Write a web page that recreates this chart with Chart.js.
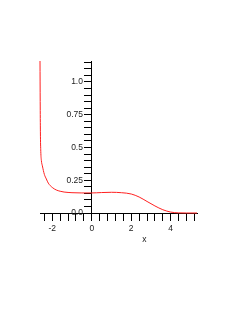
<!DOCTYPE html>
<html>
<head>
<meta charset="utf-8">
<script src="https://cdn.jsdelivr.net/npm/chart.js@4"></script>
<style>
  html, body { margin: 0; padding: 0; background: #fff; }
  #wrap { width: 245px; height: 317px; }
</style>
</head>
<body>
<div id="wrap"><canvas id="plot" width="245" height="317"></canvas></div>
<script>
// values
const xs = [-2.62, -2.61, -2.6, -2.58, -2.55, -2.5, -2.4, -2.3, -2.2, -2.0, -1.8, -1.6, -1.4, -1.0, -0.5, 0, 0.5, 1.0, 1.5, 2.0, 2.4, 2.8, 3.2, 3.6, 4.0, 4.4, 4.8, 5.33];
const ys = [1.16, 0.85, 0.62, 0.47, 0.40, 0.36, 0.295, 0.26, 0.228, 0.195, 0.176, 0.166, 0.16, 0.155, 0.153, 0.153, 0.156, 0.158, 0.155, 0.145, 0.122, 0.088, 0.054, 0.025, 0.007, 0.001, 0, 0];
const xRange = [-2.62, 5.33];
const yRange = [0, 1.16];
const xLabelEvery = 2;
const yLabelEvery = 0.25;
const axisTitle = 'x';

const isMultiple = (v, step) => Math.abs(v / step - Math.round(v / step)) < 1e-6;

const font = { family: 'Liberation Sans', size: 8.5 };

// draws the "x" caption under the horizontal axis
const captionPlugin = {
    id: 'caption',
    afterDraw(chart) {
        const ctx = chart.ctx;
        const px = chart.scales.x.getPixelForValue(2.66);
        const py = chart.scales.y.getPixelForValue(0) + 27;
        ctx.save();
        ctx.font = '8.5px "Liberation Sans"';
        ctx.fillStyle = '#222';
        ctx.textAlign = 'center';
        ctx.textBaseline = 'middle';
        ctx.fillText(axisTitle, px, py);
        ctx.restore();
    }
};

new Chart(document.getElementById('plot'), {
    type: 'line',
    data: {
        datasets: [{
            data: xs.map((x, i) => ({ x: x, y: ys[i] })),
            borderColor: '#ff2020',
            borderWidth: 1,
            pointRadius: 0,
            cubicInterpolationMode: 'monotone',
            clip: 3
        }]
    },
    options: {
        responsive: false,
        animation: false,
        events: [],
        layout: { padding: { left: 40, right: 48, top: 61, bottom: 104 } },
        plugins: { legend: { display: false }, tooltip: { enabled: false } },
        scales: {
            x: {
                type: 'linear',
                min: xRange[0],
                max: xRange[1],
                position: { y: 0 },
                border: { display: true, color: '#000', width: 1 },
                grid: { drawOnChartArea: false, drawTicks: true, tickLength: 7, color: '#000' },
                ticks: {
                    stepSize: 0.4,
                    includeBounds: false,
                    autoSkip: false,
                    maxRotation: 0,
                    padding: 4,
                    color: '#222',
                    font: font,
                    callback: v => isMultiple(v, xLabelEvery) ? String(Math.round(v)) : ''
                }
            },
            y: {
                type: 'linear',
                min: yRange[0],
                max: yRange[1],
                position: { x: 0 },
                border: { display: true, color: '#000', width: 1 },
                grid: { drawOnChartArea: false, drawTicks: true, tickLength: 7, color: '#000' },
                ticks: {
                    stepSize: 0.05,
                    includeBounds: false,
                    autoSkip: false,
                    color: '#222',
                    font: font,
                    // trailing spaces push the label off the tick marks
                    callback: v => {
                        if (!isMultiple(v, yLabelEvery)) return '';
                        const r = Math.round(v * 100) / 100;
                        const txt = Number.isInteger(r) ? r.toFixed(1) : String(r);
                        return txt + '\u00a0\u00a0\u00a0\u2009';
                    }
                }
            }
        }
    },
    plugins: [captionPlugin]
});
</script>
</body>
</html>
